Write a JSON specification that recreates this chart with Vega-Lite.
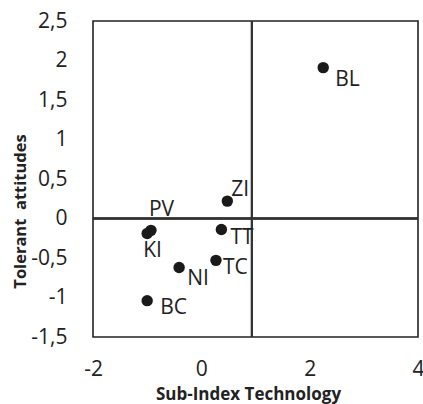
{
  "$schema": "https://vega.github.io/schema/vega-lite/v6.json",
  "width": 325,
  "height": 316,
  "autosize": "none",
  "padding": {"left": 93, "top": 21, "right": 5, "bottom": 67},
  "background": "white",
  "config": {
    "view": {"stroke": "#222", "strokeWidth": 1.6},
    "font": "Open Sans",
    "axis": {
      "domain": false, "grid": false, "ticks": false, "tickSize": 0,
      "labelFont": "Open Sans", "labelFontSize": 21, "labelColor": "#222",
      "titleFont": "Open Sans", "titleFontSize": 16.5, "titleFontWeight": "bold", "titleColor": "#222",
      "labelPadding": 24
    }
  },
  "data": {
    "values": [
      {"code": "BL", "tech": 2.25, "tol": 1.91},
      {"code": "ZI", "tech": 0.48, "tol": 0.22},
      {"code": "TT", "tech": 0.37, "tol": -0.14},
      {"code": "TC", "tech": 0.27, "tol": -0.53},
      {"code": "NI", "tech": -0.41, "tol": -0.62},
      {"code": "BC", "tech": -1.0, "tol": -1.04},
      {"code": "PV", "tech": -0.93, "tol": -0.15},
      {"code": "KI", "tech": -1.0, "tol": -0.19}
    ]
  },
  "encoding": {
    "x": {"field": "tech", "type": "quantitative",
      "scale": {"domain": [-2, 4], "nice": false, "zero": false},
      "axis": {"title": "Sub-Index Technology", "values": [-2, 0, 2, 4],
        "labelExpr": "replace(toString(datum.value), '.', ',')",
        "labelPadding": 21, "labelFlush": false, "titleFontSize": 17,
        "titleX": 155, "titleY": 62, "titleBaseline": "alphabetic", "titleAnchor": null}},
    "y": {"field": "tol", "type": "quantitative",
      "scale": {"domain": [-1.5, 2.5], "nice": false, "zero": false},
      "axis": {"title": "Tolerant\u00a0 attitudes", "values": [-1.5, -1, -0.5, 0, 0.5, 1, 1.5, 2, 2.5],
        "labelExpr": "replace(toString(datum.value), '.', ',')",
        "labelPadding": 26, "labelFlush": false,
        "titleX": -68, "titleY": 190, "titleBaseline": "alphabetic", "titleAnchor": null, "titleAlign": "center", "titleAngle": -90}}
  },
  "layer": [
    {"mark": {"type": "rule", "color": "#333", "strokeWidth": 1.5},
     "encoding": {"x": {"datum": 0.93}, "y": null}},
    {"mark": {"type": "rule", "color": "#333", "strokeWidth": 1.5},
     "encoding": {"y": {"datum": 0}, "x": null}},
    {"mark": {"type": "circle", "color": "#1a1a1a", "opacity": 1, "size": 130}},
    {"transform": [{"filter": "datum.code == 'BL'"}],
     "mark": {"type": "text", "align": "left", "baseline": "middle", "dx": 12, "dy": 12, "fontSize": 21, "color": "#222"},
     "encoding": {"text": {"field": "code"}}},
    {"transform": [{"filter": "datum.code == 'ZI'"}],
     "mark": {"type": "text", "align": "left", "baseline": "middle", "dx": 4, "dy": -11, "fontSize": 21, "color": "#222"},
     "encoding": {"text": {"field": "code"}}},
    {"transform": [{"filter": "datum.code == 'PV'"}],
     "mark": {"type": "text", "align": "left", "baseline": "middle", "dx": -2, "dy": -20, "fontSize": 21, "color": "#222"},
     "encoding": {"text": {"field": "code"}}},
    {"transform": [{"filter": "datum.code == 'KI'"}],
     "mark": {"type": "text", "align": "left", "baseline": "middle", "dx": -4, "dy": 17, "fontSize": 21, "color": "#222"},
     "encoding": {"text": {"field": "code"}}},
    {"transform": [{"filter": "datum.code == 'TT'"}],
     "mark": {"type": "text", "align": "left", "baseline": "middle", "dx": 9, "dy": 8, "fontSize": 21, "color": "#222"},
     "encoding": {"text": {"field": "code"}}},
    {"transform": [{"filter": "datum.code == 'TC'"}],
     "mark": {"type": "text", "align": "left", "baseline": "middle", "dx": 7, "dy": 8, "fontSize": 21, "color": "#222"},
     "encoding": {"text": {"field": "code"}}},
    {"transform": [{"filter": "datum.code == 'NI'"}],
     "mark": {"type": "text", "align": "left", "baseline": "middle", "dx": 8, "dy": 12, "fontSize": 21, "color": "#222"},
     "encoding": {"text": {"field": "code"}}},
    {"transform": [{"filter": "datum.code == 'BC'"}],
     "mark": {"type": "text", "align": "left", "baseline": "middle", "dx": 13, "dy": 7, "fontSize": 21, "color": "#222"},
     "encoding": {"text": {"field": "code"}}}
  ]
}
